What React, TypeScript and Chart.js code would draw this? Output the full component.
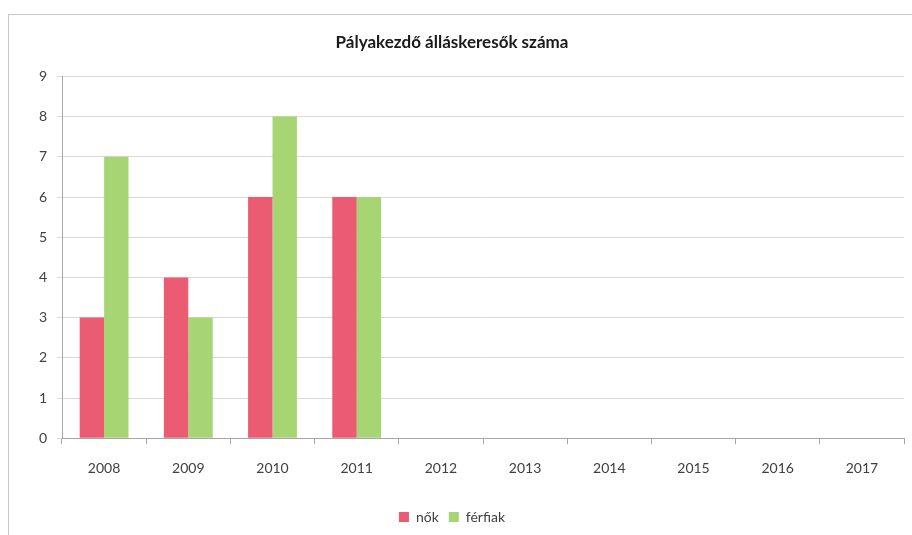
import React, { useEffect, useRef } from "react";
import { Chart, registerables } from "chart.js";

Chart.register(...registerables);

const title = "Pályakezdő álláskeresők száma";
const years = ["2008", "2009", "2010", "2011", "2012", "2013", "2014", "2015", "2016", "2017"];
const nok = [3, 4, 6, 6, null, null, null, null, null, null];
const ferfiak = [7, 3, 8, 6, null, null, null, null, null, null];
const seriesNames = ["nők", "férfiak"];

const FONT = "Lato, 'Open Sans', sans-serif";

export default function App() {
  const ref = useRef<HTMLCanvasElement | null>(null);
  useEffect(() => {
    if (!ref.current) return;
    const chart = new Chart(ref.current, {
      type: "bar",
      data: {
        labels: years,
        datasets: [
          { label: seriesNames[0], data: nok as any, backgroundColor: "#eb5b72", borderWidth: 0 },
          { label: seriesNames[1], data: ferfiak as any, backgroundColor: "#a8d574", borderWidth: 0 },
        ],
      },
      options: {
        animation: false,
        responsive: false,
        maintainAspectRatio: false,
        layout: { padding: { top: 14, left: 0, right: 8, bottom: 1 } },
        datasets: { bar: { categoryPercentage: 0.58, barPercentage: 1 } },
        plugins: {
          title: {
            display: true,
            text: title,
            color: "#1a1a1a",
            font: { family: FONT, size: 17, weight: "bold" },
            padding: { top: 18, bottom: 24 },
          },
          legend: {
            position: "bottom",
            labels: {
              boxWidth: 10,
              boxHeight: 10,
              color: "#404040",
              font: { family: FONT, size: 14 },
              padding: 10,
            },
          },
          tooltip: { enabled: false },
        },
        scales: {
          x: {
            afterFit: (s: any) => { s.height += 7; },
            grid: { drawOnChartArea: false, tickLength: 6, color: "#a6a6a6" },
            border: { color: "#a6a6a6" },
            ticks: { color: "#404040", font: { family: FONT, size: 14 }, padding: 16 },
          },
          y: {
            min: 0,
            max: 9,
            afterFit: (s: any) => { s.width = 62; },
            grid: { color: "#d9d9d9", tickLength: 5 },
            border: { color: "#a6a6a6" },
            ticks: { stepSize: 1, color: "#404040", font: { family: FONT, size: 14 }, padding: 10 },
          },
        },
      },
    });
    return () => chart.destroy();
  }, []);
  return (
    <div style={{ position: "fixed", left: 0, top: 0, width: 912, height: 535, background: "#fff" }}>
      <div style={{ position: "absolute", left: 8, top: 14, right: 0, bottom: 0, borderTop: "1px solid #c8c8c8", borderLeft: "1px solid #c8c8c8" }} />
      <canvas ref={ref} width={912} height={535} style={{ position: "absolute", left: 0, top: 0 }} />
    </div>
  );
}
